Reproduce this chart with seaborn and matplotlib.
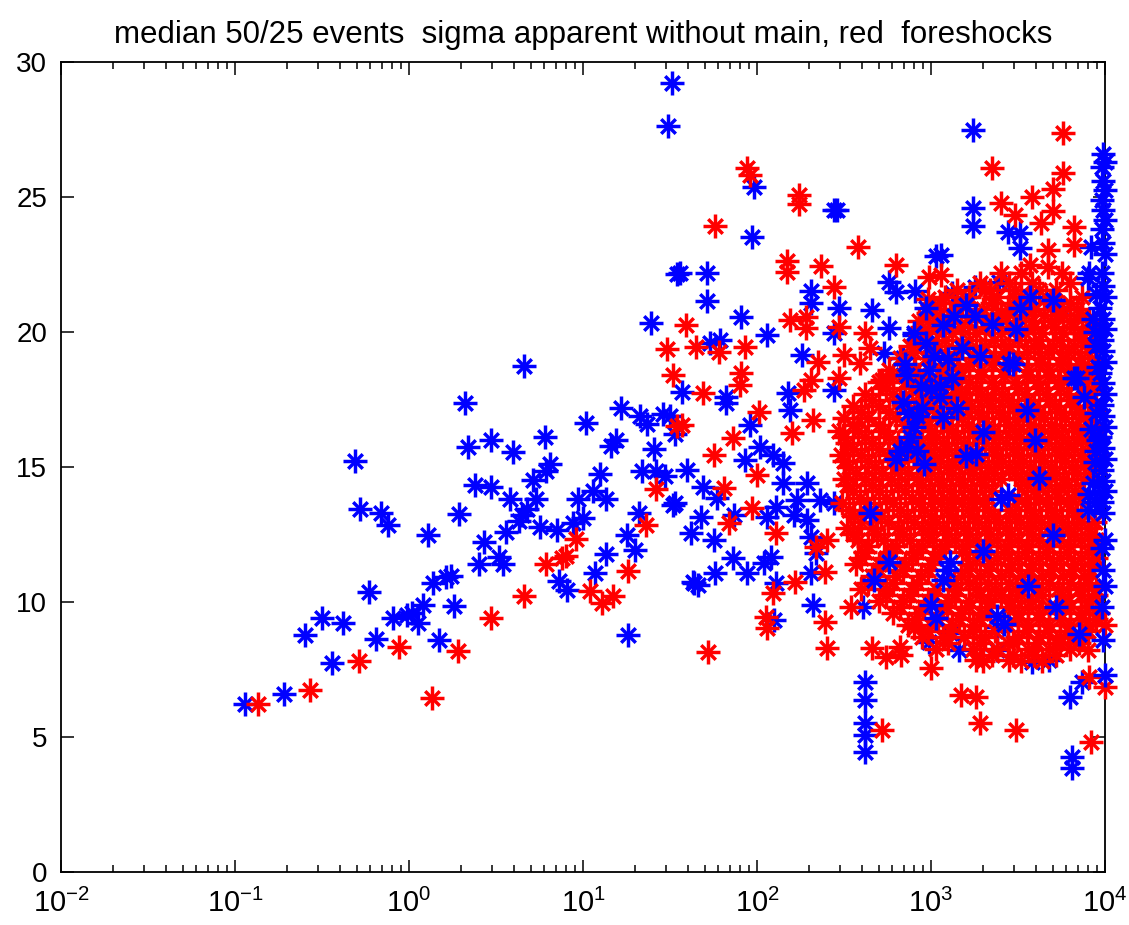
import numpy as np
import pandas as pd
import matplotlib
matplotlib.use("Agg")
import matplotlib.pyplot as plt
import seaborn as sns
from matplotlib.ticker import LogLocator, NullLocator, FixedLocator

# (log10 x, apparent sigma) for each event; blue = all events, red = foreshocks
blue_points = [
    (-0.94, 6.23), (-0.72, 6.60), (-0.60, 8.79), (-0.50, 9.41), (-0.44, 7.74), (-0.38, 9.22),
    (-0.31, 15.22), (-0.28, 13.45), (-0.23, 10.37), (-0.19, 8.62), (-0.16, 13.28), (-0.12, 12.87),
    (-0.09, 9.41), (-0.01, 9.53), (0.02, 9.60), (0.05, 9.22), (0.08, 9.90), (0.11, 12.50),
    (0.14, 10.71), (0.17, 8.60), (0.21, 10.92), (0.24, 10.95), (0.26, 9.84), (0.29, 13.27),
    (0.32, 17.37), (0.34, 15.74), (0.38, 14.33), (0.40, 11.41), (0.43, 12.23), (0.47, 16.00),
    (0.47, 14.26), (0.52, 11.66), (0.54, 11.39), (0.56, 12.59), (0.58, 13.80), (0.60, 15.57),
    (0.63, 13.00), (0.65, 13.24), (0.68, 13.45), (0.66, 18.75), (0.71, 14.51), (0.73, 13.80),
    (0.75, 12.77), (0.78, 16.10), (0.79, 14.85), (0.81, 15.10), (0.85, 12.68), (0.86, 10.77),
    (0.91, 10.46), (0.94, 12.93), (0.97, 13.82), (1.00, 13.12), (1.02, 16.62), (1.06, 14.11),
    (1.07, 11.07), (1.10, 14.73), (1.13, 13.80), (1.13, 11.76), (1.16, 15.78), (1.19, 15.99),
    (1.22, 17.20), (1.25, 12.50), (1.26, 8.79), (1.30, 11.94), (1.32, 13.31), (1.33, 16.90),
    (1.34, 14.85), (1.37, 16.58), (1.39, 20.33), (1.41, 15.66), (1.42, 14.85), (1.46, 16.98),
    (1.47, 14.67), (1.49, 27.64), (1.50, 16.90), (1.51, 29.21), (1.52, 13.61), (1.53, 16.21),
    (1.53, 13.66), (1.54, 22.15), (1.56, 22.20), (1.57, 17.79), (1.60, 14.89), (1.62, 12.54),
    (1.63, 10.75), (1.64, 10.69), (1.66, 10.62), (1.68, 13.16), (1.69, 14.27), (1.71, 22.20),
    (1.71, 21.15), (1.73, 19.58), (1.75, 12.30), (1.76, 11.06), (1.77, 13.84), (1.79, 19.70),
    (1.82, 17.60), (1.82, 17.36), (1.86, 11.62), (1.87, 13.22), (1.91, 20.57), (1.93, 15.26),
    (1.94, 11.06), (1.96, 16.56), (1.97, 23.53), (1.98, 25.36), (2.02, 15.75), (2.04, 11.43),
    (2.06, 19.89), (2.06, 13.16), (2.08, 11.68), (2.09, 15.44), (2.10, 9.33), (2.11, 13.53),
    (2.11, 10.69), (2.15, 15.14), (2.15, 14.40), (2.18, 17.73), (2.19, 17.10), (2.21, 13.22),
    (2.23, 13.78), (2.26, 19.15), (2.29, 14.40), (2.29, 13.04), (2.31, 21.53), (2.31, 21.06),
    (2.31, 12.42), (2.31, 11.06), (2.32, 9.89), (2.34, 11.80), (2.36, 13.78), (2.44, 24.52),
    (2.46, 24.52), (2.44, 19.95), (2.44, 17.85), (2.44, 13.66), (2.47, 20.88), (2.61, 9.83),
    (2.62, 6.37), (2.62, 5.51), (2.62, 5.07), (2.62, 4.46), (2.62, 7.05), (2.66, 20.81),
    (2.73, 19.21), (2.76, 21.86), (2.76, 20.16), (2.80, 21.49), (2.84, 19.03), (2.84, 18.41),
    (2.90, 19.89), (2.91, 21.53), (2.96, 18.22), (2.98, 19.46), (2.99, 8.53), (3.03, 22.81),
    (3.03, 20.20), (3.06, 22.85), (3.11, 8.84), (3.12, 21.43), (3.16, 8.22), (3.17, 20.20),
    (3.24, 27.48), (3.24, 24.58), (3.24, 23.93), (3.25, 21.68), (3.38, 8.22), (3.38, 9.09),
    (3.39, 21.86), (3.44, 23.71), (3.51, 23.65), (3.51, 23.10), (3.58, 7.79), (3.68, 7.85),
    (3.74, 20.94), (3.80, 6.49), (3.81, 4.27), (3.81, 3.84), (3.82, 8.72), (3.87, 7.05),
    (3.91, 22.17), (3.92, 23.16),
]

# events sitting at the upper end of the x range
blue_edge = [
    (3.99, 26.60), (4.00, 26.30), (3.98, 26.10), (3.99, 25.60), (4.00, 25.26), (3.98, 24.90),
    (3.99, 24.52), (4.00, 24.15), (3.98, 23.80), (3.99, 23.30), (4.00, 22.90), (3.98, 22.20),
    (3.99, 21.70), (4.00, 21.30), (3.97, 20.90), (3.99, 20.50), (4.00, 20.10), (3.98, 19.70),
    (3.99, 19.30), (4.00, 18.90), (3.97, 18.50), (3.99, 18.10), (4.00, 17.70), (3.98, 17.30),
    (3.99, 16.90), (4.00, 16.50), (3.97, 16.10), (3.99, 15.70), (4.00, 15.30), (3.98, 14.90),
    (3.99, 14.50), (4.00, 14.10), (3.98, 13.70), (3.99, 13.30), (4.00, 12.30), (3.98, 12.00),
    (3.99, 11.20), (4.00, 10.60), (3.98, 9.80), (3.99, 8.60), (4.00, 7.30),
]

# blue events that show through the dense red cloud
blue_on_top = [
    (3.93, 14.40), (3.91, 14.00), (3.94, 13.70), (3.90, 13.40), (3.92, 16.40), (3.95, 17.00),
    (3.88, 17.60), (3.40, 13.80), (3.44, 13.95), (3.09, 11.20), (3.07, 10.80), (3.11, 11.50),
    (3.38, 9.50), (3.42, 9.20), (3.72, 9.80), (3.85, 8.80), (2.99, 18.60), (3.05, 18.00),
    (3.18, 19.40), (3.25, 20.60), (3.47, 18.80), (3.51, 20.90), (3.84, 18.30), (2.90, 16.50),
    (2.92, 15.60), (2.87, 17.00), (2.96, 15.10), (3.00, 9.90), (3.03, 9.40), (2.82, 15.60),
    (2.80, 15.30), (2.65, 13.30), (2.67, 10.80), (2.76, 11.50), (3.60, 16.00), (3.20, 15.40),
    (3.70, 12.50), (3.30, 11.90), (3.56, 10.60), (3.15, 17.20), (3.95, 19.50), (3.93, 20.50),
    (3.96, 18.70), (3.94, 15.20), (3.62, 14.60), (3.30, 16.30),
    (3.07, 20.26), (2.90, 19.95), (2.97, 19.60), (2.85, 18.80), (2.86, 18.40), (2.84, 17.40),
    (2.94, 18.00), (3.05, 17.60), (2.86, 15.75), (3.49, 20.10), (3.45, 18.85), (3.55, 17.10),
    (3.82, 18.30), (3.57, 21.30), (3.70, 21.20), (3.90, 22.00), (3.26, 15.50), (3.07, 16.85),
    (3.95, 21.40), (3.94, 20.00), (3.96, 16.00), (3.95, 15.60), (3.10, 19.00), (2.95, 17.20),
    (2.92, 16.90), (2.88, 16.10), (3.00, 17.90), (3.02, 19.10), (3.12, 18.30), (3.13, 20.60),
    (2.97, 20.90), (3.20, 21.00), (3.35, 20.30), (3.28, 19.10),
]

red_points = [
    (-0.87, 6.23), (-0.57, 6.74), (-0.29, 7.83), (-0.06, 8.35), (0.13, 6.44), (0.28, 8.19),
    (0.47, 9.41), (0.66, 10.21), (0.79, 11.42), (0.88, 11.63), (0.90, 11.70), (0.96, 12.32),
    (1.04, 10.40), (1.11, 9.97), (1.17, 10.21), (1.26, 11.16), (1.36, 12.85), (1.42, 14.17),
    (1.48, 19.36), (1.52, 18.40), (1.54, 16.52), (1.57, 16.56), (1.59, 20.26), (1.65, 19.46),
    (1.69, 17.73), (1.72, 8.16), (1.75, 15.44), (1.76, 23.93), (1.78, 19.27), (1.81, 14.21),
    (1.84, 12.91), (1.86, 16.06), (1.90, 18.04), (1.91, 18.47), (1.93, 19.46), (1.94, 26.06),
    (1.96, 25.80), (1.97, 13.47), (2.00, 14.70), (2.01, 17.05), (2.05, 9.46), (2.06, 9.03),
    (2.09, 10.32), (2.11, 12.54), (2.17, 22.64), (2.17, 22.23), (2.19, 20.44), (2.20, 16.25),
    (2.22, 10.75), (2.24, 25.07), (2.24, 24.74), (2.27, 17.85), (2.28, 20.57), (2.28, 20.14),
    (2.31, 18.22), (2.32, 16.74), (2.34, 12.05), (2.35, 18.90), (2.37, 22.46), (2.39, 11.12),
    (2.39, 9.27), (2.40, 12.30), (2.40, 8.28), (2.44, 21.68), (2.47, 20.20), (2.47, 18.29),
    (2.50, 19.15), (2.54, 9.83), (2.58, 23.16), (2.59, 18.84), (2.62, 19.95), (2.65, 19.40),
    (2.66, 8.28), (2.72, 18.22), (2.74, 7.97), (2.72, 5.26), (2.80, 22.48), (2.82, 8.34),
    (2.83, 8.04), (2.90, 9.03), (2.98, 21.21), (2.98, 20.69), (2.99, 22.05), (3.00, 7.54),
    (3.06, 22.11), (3.17, 6.56), (3.26, 6.49), (3.26, 7.85), (3.28, 5.51), (3.34, 21.56),
    (3.35, 26.06), (3.40, 24.77), (3.40, 20.69), (3.45, 7.85), (3.47, 8.47), (3.48, 24.33),
    (3.49, 5.26), (3.57, 22.48), (3.58, 25.01), (3.63, 24.03), (3.67, 23.04), (3.67, 22.42),
    (3.70, 25.28), (3.70, 24.48), (3.72, 8.47), (3.76, 27.36), (3.76, 25.90), (3.82, 23.90),
    (3.82, 23.22), (3.90, 8.22), (3.91, 7.23), (3.92, 4.83), (4.00, 6.86), (4.00, 9.15),
]

# dense foreshock cloud, listed as sigma level -> log10 x positions
red_cloud_rows = [
    (22.2, [3.40, 3.52, 3.75]),
    (21.8, [3.28, 3.45, 3.58, 3.80]),
    (21.55, [3.15, 3.31, 3.48, 3.62, 3.72]),
    (21.3, [3.08, 3.22, 3.38, 3.52, 3.66, 3.87]),
    (21.07, [3.05, 3.18, 3.35, 3.47, 3.57, 3.70, 3.80]),
    (20.85, [3.02, 3.14, 3.30, 3.44, 3.60, 3.73, 3.84]),
    (20.62, [2.99, 3.11, 3.26, 3.40, 3.54, 3.65, 3.76, 3.87]),
    (20.4, [2.93, 3.07, 3.21, 3.35, 3.49, 3.58, 3.69, 3.80, 3.91]),
    (20.17, [2.95, 3.03, 3.17, 3.31, 3.45, 3.59, 3.71, 3.82, 3.92]),
    (19.95, [2.98, 3.12, 3.26, 3.40, 3.54, 3.64, 3.76, 3.87]),
    (19.72, [2.93, 3.08, 3.22, 3.36, 3.50, 3.62, 3.74, 3.86, 3.94]),
    (19.5, [2.88, 3.04, 3.18, 3.31, 3.45, 3.59, 3.70, 3.82, 3.92]),
    (19.27, [2.90, 3.02, 3.15, 3.28, 3.42, 3.55, 3.67, 3.79, 3.90]),
    (19.05, [2.82, 2.97, 3.10, 3.24, 3.37, 3.50, 3.63, 3.75, 3.86]),
    (18.82, [2.85, 2.99, 3.11, 3.22, 3.35, 3.48, 3.62, 3.74, 3.85, 3.94]),
    (18.6, [2.76, 2.91, 3.05, 3.16, 3.29, 3.42, 3.56, 3.68, 3.80, 3.90]),
    (18.37, [2.78, 2.93, 3.07, 3.17, 3.29, 3.42, 3.55, 3.67, 3.79, 3.90]),
    (18.15, [2.70, 2.85, 3.00, 3.12, 3.22, 3.35, 3.48, 3.61, 3.73, 3.85, 3.94]),
    (17.92, [2.74, 2.89, 3.04, 3.14, 3.26, 3.37, 3.50, 3.62, 3.74, 3.86, 3.95]),
    (17.7, [2.62, 2.78, 2.93, 3.07, 3.17, 3.29, 3.41, 3.54, 3.66, 3.78, 3.89]),
    (17.47, [2.66, 2.82, 2.97, 3.09, 3.20, 3.32, 3.44, 3.56, 3.68, 3.80, 3.90]),
    (17.25, [2.55, 2.70, 2.86, 3.01, 3.12, 3.23, 3.35, 3.47, 3.59, 3.71, 3.83, 3.93]),
    (17.02, [2.60, 2.76, 2.90, 3.03, 3.15, 3.27, 3.39, 3.50, 3.62, 3.74, 3.85, 3.95]),
    (16.8, [2.50, 2.64, 2.80, 2.95, 3.06, 3.18, 3.30, 3.42, 3.53, 3.65, 3.77, 3.88]),
    (16.57, [2.55, 2.70, 2.85, 2.98, 3.09, 3.21, 3.33, 3.45, 3.57, 3.69, 3.81, 3.91]),
    (16.35, [2.47, 2.58, 2.73, 2.88, 3.00, 3.12, 3.24, 3.36, 3.48, 3.60, 3.72, 3.84, 3.94]),
    (16.12, [2.50, 2.62, 2.76, 2.91, 3.03, 3.15, 3.27, 3.39, 3.51, 3.63, 3.75, 3.87, 3.96]),
    (15.9, [2.52, 2.66, 2.81, 2.95, 3.07, 3.19, 3.31, 3.43, 3.55, 3.67, 3.79, 3.90]),
    (15.67, [2.55, 2.70, 2.85, 2.98, 3.10, 3.22, 3.35, 3.47, 3.59, 3.71, 3.82, 3.93]),
    (15.45, [2.48, 2.60, 2.75, 2.90, 3.02, 3.14, 3.26, 3.38, 3.50, 3.62, 3.74, 3.86, 3.95]),
    (15.22, [2.50, 2.64, 2.79, 2.93, 3.05, 3.17, 3.29, 3.41, 3.53, 3.65, 3.77, 3.88]),
    (15.0, [2.53, 2.68, 2.83, 2.97, 3.09, 3.21, 3.33, 3.45, 3.57, 3.69, 3.81, 3.91]),
    (14.77, [2.57, 2.72, 2.87, 3.00, 3.12, 3.24, 3.36, 3.48, 3.60, 3.72, 3.84, 3.94]),
    (14.55, [2.50, 2.62, 2.77, 2.92, 3.04, 3.16, 3.28, 3.40, 3.52, 3.64, 3.76, 3.88]),
    (14.32, [2.52, 2.66, 2.81, 2.95, 3.07, 3.19, 3.31, 3.55, 3.67, 3.79]),
    (14.1, [2.55, 2.70, 2.85, 2.99, 3.11, 3.23, 3.35, 3.59, 3.71, 3.83]),
    (13.87, [2.59, 2.74, 2.89, 3.02, 3.14, 3.26, 3.50, 3.62, 3.74, 3.86]),
    (13.65, [2.49, 2.63, 2.78, 2.93, 3.06, 3.18, 3.30, 3.54, 3.66, 3.78]),
    (13.42, [2.53, 2.67, 2.82, 2.96, 3.09, 3.21, 3.33, 3.45, 3.57, 3.69, 3.81]),
    (13.2, [2.56, 2.71, 2.86, 3.00, 3.12, 3.24, 3.36, 3.48, 3.60, 3.72, 3.84]),
    (12.97, [2.60, 2.75, 2.90, 3.03, 3.15, 3.27, 3.39, 3.51, 3.63, 3.75, 3.86, 3.94]),
    (12.75, [2.52, 2.66, 2.81, 2.95, 3.07, 3.19, 3.31, 3.43, 3.55, 3.67, 3.79, 3.90]),
    (12.52, [2.55, 2.69, 2.84, 2.98, 3.10, 3.22, 3.34, 3.46, 3.58, 3.70, 3.82, 3.92]),
    (12.3, [2.58, 2.73, 2.88, 3.01, 3.14, 3.26, 3.38, 3.50, 3.62, 3.74, 3.86, 3.95]),
    (12.07, [2.64, 2.80, 2.95, 3.08, 3.20, 3.32, 3.44, 3.56, 3.68, 3.80, 3.93]),
    (11.85, [2.62, 2.77, 2.92, 3.05, 3.18, 3.30, 3.42, 3.54, 3.66, 3.78, 3.90]),
    (11.62, [2.60, 2.74, 2.89, 3.02, 3.26, 3.38, 3.50, 3.62, 3.74, 3.86, 3.95]),
    (11.4, [2.57, 2.70, 2.85, 3.00, 3.22, 3.34, 3.46, 3.58, 3.70, 3.82, 3.93]),
    (11.17, [2.70, 2.84, 2.98, 3.21, 3.33, 3.45, 3.57, 3.69, 3.81, 3.92]),
    (10.95, [2.66, 2.80, 2.94, 3.17, 3.28, 3.40, 3.52, 3.64, 3.76, 3.88]),
    (10.72, [2.64, 2.78, 2.92, 3.13, 3.22, 3.33, 3.45, 3.56, 3.68, 3.80, 3.90]),
    (10.5, [2.60, 2.74, 2.89, 3.03, 3.15, 3.26, 3.37, 3.49, 3.61, 3.73, 3.85, 3.95]),
    (10.27, [2.74, 2.88, 3.02, 3.14, 3.28, 3.40, 3.52, 3.64, 3.75, 3.86, 3.95]),
    (10.05, [2.70, 2.84, 2.98, 3.10, 3.22, 3.34, 3.46, 3.58, 3.79, 3.90]),
    (9.82, [2.82, 2.96, 3.09, 3.22, 3.33, 3.45, 3.56, 3.68, 3.80, 3.91]),
    (9.6, [2.78, 2.93, 3.05, 3.17, 3.29, 3.50, 3.62, 3.74, 3.86, 3.96]),
    (9.37, [2.91, 3.04, 3.16, 3.28, 3.50, 3.62, 3.74, 3.86, 3.95]),
    (9.15, [2.87, 3.00, 3.12, 3.24, 3.44, 3.56, 3.68, 3.80, 3.91]),
    (8.92, [2.98, 3.11, 3.24, 3.37, 3.55, 3.67, 3.79, 3.90]),
    (8.7, [2.95, 3.07, 3.19, 3.31, 3.50, 3.62, 3.74, 3.86]),
    (8.47, [3.10, 3.28, 3.44, 3.61, 3.74, 3.85]),
    (8.25, [3.03, 3.24, 3.38, 3.56, 3.68, 3.80]),
    (8.02, [3.35, 3.47, 3.59, 3.72]),
    (7.8, [3.30, 3.52, 3.64]),
]

TITLE = "median 50/25 events  sigma apparent without main, red  foreshocks"
Y_TICKS = [0, 5, 10, 15, 20, 25, 30]


def to_frame(pairs):
    arr = np.array(pairs, dtype=float)
    return pd.DataFrame({"x": 10.0 ** arr[:, 0], "sigma": arr[:, 1]})


blue_df = to_frame(blue_points)
blue_top_df = to_frame(blue_on_top + blue_edge)
red_df = to_frame(red_points + [(lx, y) for y, xs in red_cloud_rows for lx in xs])

sns.set_style("ticks")
plt.rcParams["font.family"] = ["Liberation Sans", "DejaVu Sans"]
plt.rcParams["axes.edgecolor"] = "black"
plt.rcParams["text.color"] = "black"

fig = plt.figure(figsize=(11.29, 9.25), dpi=100)
ax = fig.add_axes([61 / 1129, 53 / 925, 1044 / 1129, 810 / 925])


def asterisks(df, color, z):
    # an asterisk marker: long plus arms with short diagonal arms
    sns.scatterplot(data=df, x="x", y="sigma", marker="+", s=280, color=color,
                    linewidth=2.5, ax=ax, zorder=z, clip_on=False, legend=False)
    sns.scatterplot(data=df, x="x", y="sigma", marker="x", s=110, color=color,
                    linewidth=2.5, ax=ax, zorder=z, clip_on=False, legend=False)


asterisks(blue_df, "#0000ff", 2)
asterisks(red_df, "#ff0000", 3)
asterisks(blue_top_df, "#0000ff", 4)

ax.set_xscale("log")
ax.set_xlim(1e-2, 1e4)
ax.set_ylim(0, 30)
ax.xaxis.set_major_locator(LogLocator(base=10, numticks=10))
ax.xaxis.set_minor_locator(LogLocator(base=10, subs=np.arange(2, 10), numticks=100))
ax.yaxis.set_major_locator(FixedLocator(Y_TICKS))
ax.yaxis.set_minor_locator(NullLocator())
ax.set_xlabel("")
ax.set_ylabel("")

for side in ["top", "right", "bottom", "left"]:
    ax.spines[side].set_visible(True)
    ax.spines[side].set_linewidth(1.3)
    ax.spines[side].set_color("black")

ax.tick_params(which="both", direction="in", top=True, right=True, colors="black", width=1.1)
ax.tick_params(which="major", length=9)
ax.tick_params(which="minor", length=5)
ax.tick_params(axis="x", which="major", labelsize=21, pad=12)
ax.tick_params(axis="y", which="major", labelsize=20, pad=10)

ax.set_title(TITLE, fontsize=22.5, pad=14, color="black")

fig.savefig("out.png", dpi=100, facecolor="white")
